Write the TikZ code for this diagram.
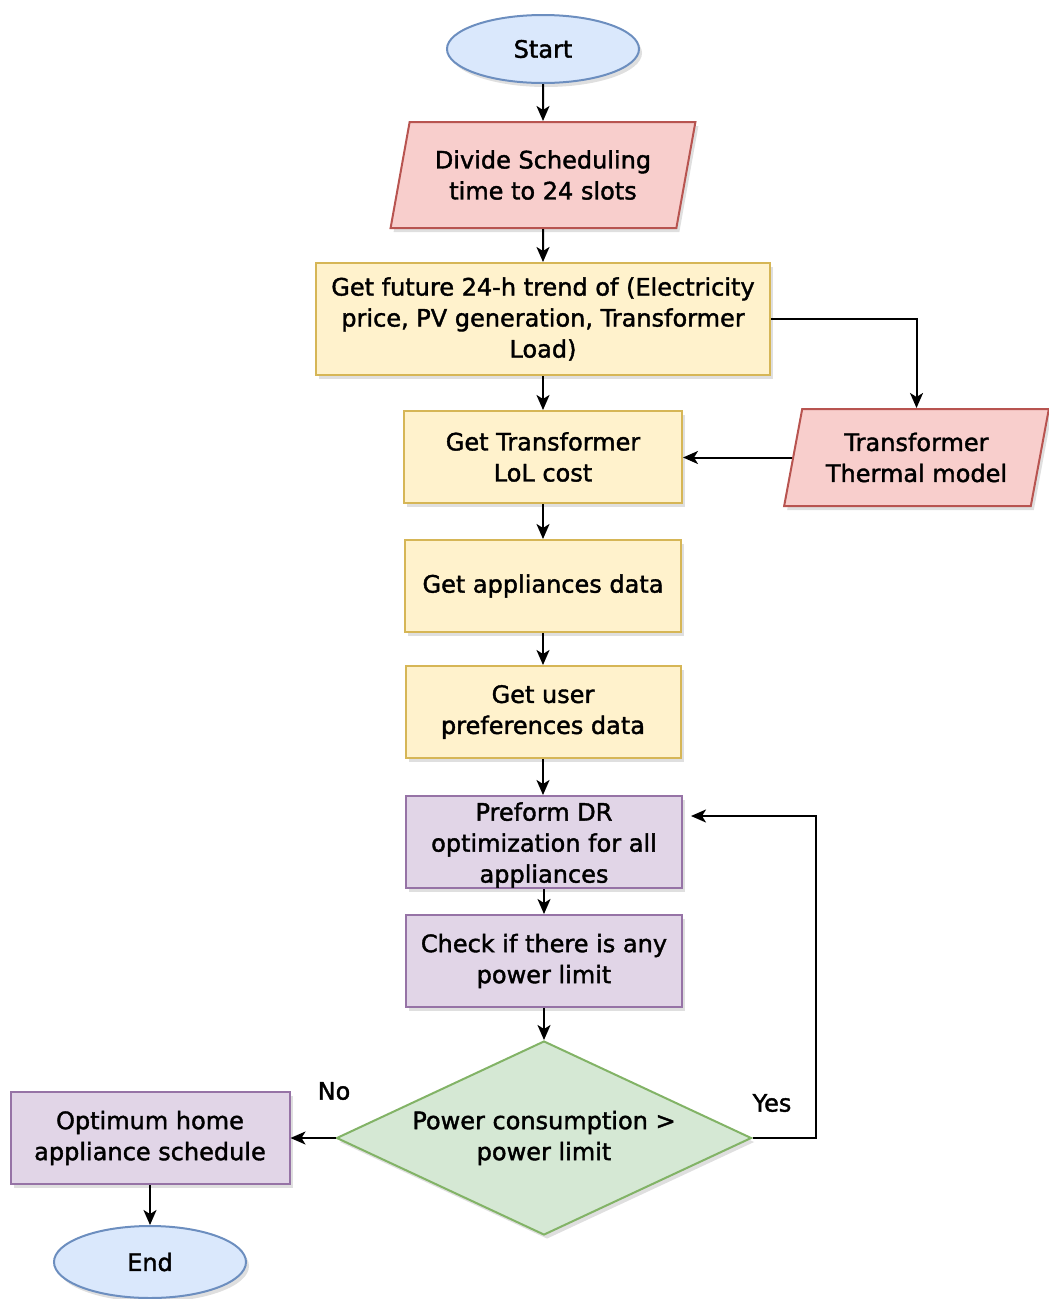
\documentclass[tikz,border=0pt]{standalone}
\usepackage{fontspec}
\setmainfont{DejaVu Sans}[FakeBold=1.6]
\usetikzlibrary{shapes.geometric,arrows.meta,shadows}
\definecolor{bluef}{HTML}{DAE8FC}\definecolor{blued}{HTML}{6C8EBF}
\definecolor{redf}{HTML}{F8CECC}\definecolor{redd}{HTML}{B85450}
\definecolor{yelf}{HTML}{FFF2CC}\definecolor{yeld}{HTML}{D6B656}
\definecolor{purf}{HTML}{E1D5E7}\definecolor{purd}{HTML}{9673A6}
\definecolor{grnf}{HTML}{D5E8D4}\definecolor{grnd}{HTML}{82B366}
\begin{document}
\begin{tikzpicture}[x=1pt,y=1pt,
  font=\fontsize{24}{31}\selectfont,
  base/.style={draw, line width=2pt, align=center, inner sep=0pt,
    drop shadow={shadow xshift=3pt,shadow yshift=-4pt,opacity=0.25}},
  term/.style={base, ellipse, fill=bluef, draw=blued},
  iobox/.style={base, trapezium, trapezium stretches=true, fill=redf, draw=redd},
  yelbox/.style={base, rectangle, fill=yelf, draw=yeld},
  purbox/.style={base, rectangle, fill=purf, draw=purd},
  decbox/.style={base, diamond, fill=grnf, draw=grnd},
  arr/.style={-{Stealth[length=15pt,width=13pt,inset=4pt]}, line width=2pt}
]
\useasboundingbox (0,0) rectangle (1049,-1299);
\node[term, minimum width=192, minimum height=68] (start) at (543,-49) {Start};
\node[iobox, trapezium left angle=72.7, trapezium right angle=107.3, minimum width=305, minimum height=106] (divide) at (543,-175) {Divide Scheduling\\time to 24 slots};
\node[yelbox, minimum width=454, minimum height=112] (futr) at (543,-319) {Get future 24-h trend of (Electricity\\price, PV generation, Transformer\\Load)};
\node[yelbox, minimum width=278, minimum height=92] (lol) at (543,-457) {Get Transformer\\LoL cost};
\node[iobox, trapezium left angle=73.9, trapezium right angle=106.1, minimum width=265, minimum height=97] (therm) at (916.5,-457.5) {Transformer\\Thermal model};
\node[yelbox, minimum width=276, minimum height=92] (appl) at (543,-586) {Get appliances data};
\node[yelbox, minimum width=275, minimum height=92] (pref) at (543,-712) {Get user\\preferences data};
\node[purbox, minimum width=276, minimum height=92] (dr) at (544,-842) {};
\node[align=center] (drtext) at (544,-845) {Preform DR\\optimization for all\\appliances};
\node[purbox, minimum width=276, minimum height=92] (chk) at (544,-961) {Check if there is any\\power limit};
\node[decbox, minimum width=415, minimum height=194, aspect=2.14] (dec) at (544,-1138) {Power consumption >\\power limit};
\node[purbox, minimum width=279, minimum height=92] (opt) at (150,-1138) {Optimum home\\appliance schedule};
\node[term, minimum width=192, minimum height=72] (end) at (150,-1262) {End};
\node (no) at (334,-1091) {No};
\node (yes) at (772,-1103) {Yes};
\draw[arr] (start.south) -- (divide.north);
\draw[arr] (divide.south) -- (futr.north);
\draw[arr] (futr.south) -- (lol.north);
\draw[arr] (futr.east) -| (therm.north);
\draw[arr] (therm.west) -- (therm.west -| lol.east);
\draw[arr] (lol.south) -- (appl.north);
\draw[arr] (appl.south) -- (pref.north);
\draw[arr] (pref.south) -- (pref.south |- dr.north);
\draw[arr] (dr.south) -- (chk.north);
\draw[arr] (chk.south) -- (dec.north);
\draw[arr] (dec.west) -- (opt.east);
\draw[arr] (opt.south) -- (end.north);
\draw[arr] (dec.east) -- ++(63,0) |- ([xshift=8pt,yshift=-21pt]dr.north east);
\end{tikzpicture}
\end{document}
